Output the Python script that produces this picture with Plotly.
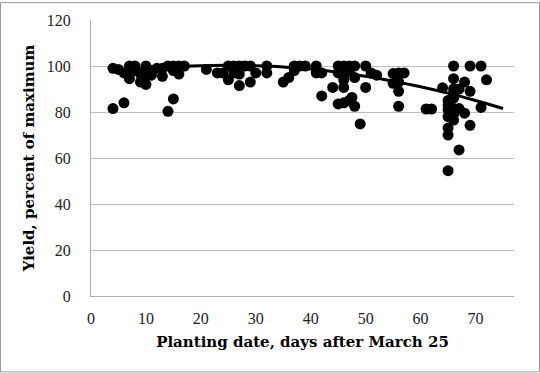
import plotly.graph_objects as go

# Observed planting date (days after March 25) and yield (% of maximum)
days = [4, 4, 5, 6, 6, 7, 7, 7, 8, 8, 9, 9, 10, 10, 10, 11, 11, 12, 13, 13,
        14, 14, 15, 15, 15, 16, 16, 17,
        21, 23, 24, 25, 25, 26, 26, 27, 27, 27, 28, 29, 29, 30, 32, 32, 35, 36,
        37, 37, 38, 39, 41, 41, 42, 42,
        44, 45, 45, 45, 46, 46, 46, 46, 46, 47, 47, 47, 47.5, 48, 48, 48, 49,
        50, 50, 51, 52,
        55, 55, 56, 56, 56, 56, 57, 61, 62,
        64, 65, 65, 65, 65, 65, 65, 65, 66, 66, 66, 66, 66, 66, 66, 66,
        67, 67, 67, 68, 68, 69, 69, 69, 71, 71, 72]
yields = [99, 81.5, 98.5, 97, 84, 100, 94.5, 97, 100, 98, 96.5, 93, 100, 92, 96, 96, 98, 99, 99, 95.5,
          100, 80.3, 100, 85.7, 98, 100, 96.5, 100,
          98.5, 97, 97, 94, 100, 100, 97, 100, 91.5, 96.5, 100, 100, 93, 97, 100, 97, 93, 95,
          100, 98, 100, 100, 100, 97, 97, 87,
          90.7, 83.5, 100, 97, 100, 90.7, 84, 96, 94, 100, 85, 98, 86.3, 100, 82.5, 95, 74.8,
          100, 90.7, 97, 96,
          96.7, 92.5, 97, 89, 82.5, 93, 97, 81.3, 81.3,
          90.5, 85, 81, 78, 73, 70, 54.5, 83, 100, 94.5, 90, 86, 81.5, 76.5, 88, 79,
          90, 81.5, 63.5, 93, 79.5, 100, 89, 74.2, 100, 82, 94]

# Trend line
trend_days = [4, 10, 15, 20, 25, 30, 35, 40, 45, 50, 55, 60, 65, 70, 75]
trend_yield = [97.6, 98.9, 99.7, 100.1, 100.3, 100.1, 99.6, 98.7, 97.3, 95.5, 93.4, 91.0, 88.2, 85.0, 81.5]

x_ticks = [0, 10, 20, 30, 40, 50, 60, 70]
y_ticks = [0, 20, 40, 60, 80, 100, 120]

fig = go.Figure()
fig.add_trace(go.Scatter(x=days, y=yields, mode="markers",
                         marker=dict(color="black", size=11), showlegend=False))
fig.add_trace(go.Scatter(x=trend_days, y=trend_yield, mode="lines",
                         line=dict(color="black", width=3, shape="spline"), showlegend=False))

ML, MR, MT, MB = 91, 26, 18, 77
W, H = 540, 373
pw, ph = W - ML - MR, H - MT - MB

tick_font = dict(family="Liberation Serif", size=16, color="#222")
title_font = dict(family="DejaVu Serif", size=15, color="black")

fig.update_layout(
    width=W, height=H,
    margin=dict(l=ML, r=MR, t=MT, b=MB),
    paper_bgcolor="white", plot_bgcolor="white",
    xaxis=dict(range=[0, 77], tickvals=x_ticks, showgrid=False, zeroline=False,
               showline=True, linecolor="#b0b0b0", linewidth=1,
               ticks="outside", ticklen=8, tickcolor="rgba(0,0,0,0)", tickfont=tick_font,
               title=dict(text="<b>Planting date, days after March 25</b>",
                          font=title_font, standoff=10)),
    yaxis=dict(range=[0, 120], tickvals=y_ticks, showgrid=True, gridcolor="#c0c0c0",
               gridwidth=1, zeroline=False, showline=True, linecolor="#b0b0b0",
               linewidth=1, ticks="outside", ticklen=16, tickcolor="rgba(0,0,0,0)",
               tickfont=tick_font,
               title=dict(text="<b>Yield, percent of maximum</b>",
                          font=title_font, standoff=8)),
    shapes=[dict(type="rect", xref="paper", yref="paper",
                 x0=-(ML - 0.5) / pw, x1=1 + (MR - 0.5) / pw,
                 y0=-(MB - 0.5) / ph, y1=1 + (MT - 0.5) / ph,
                 line=dict(color="#9a9a9a", width=1))],
)

fig.write_html("out.html", config={"displayModeBar": False},
               post_script="document.body.style.margin='0';document.body.style.overflow='hidden';")
